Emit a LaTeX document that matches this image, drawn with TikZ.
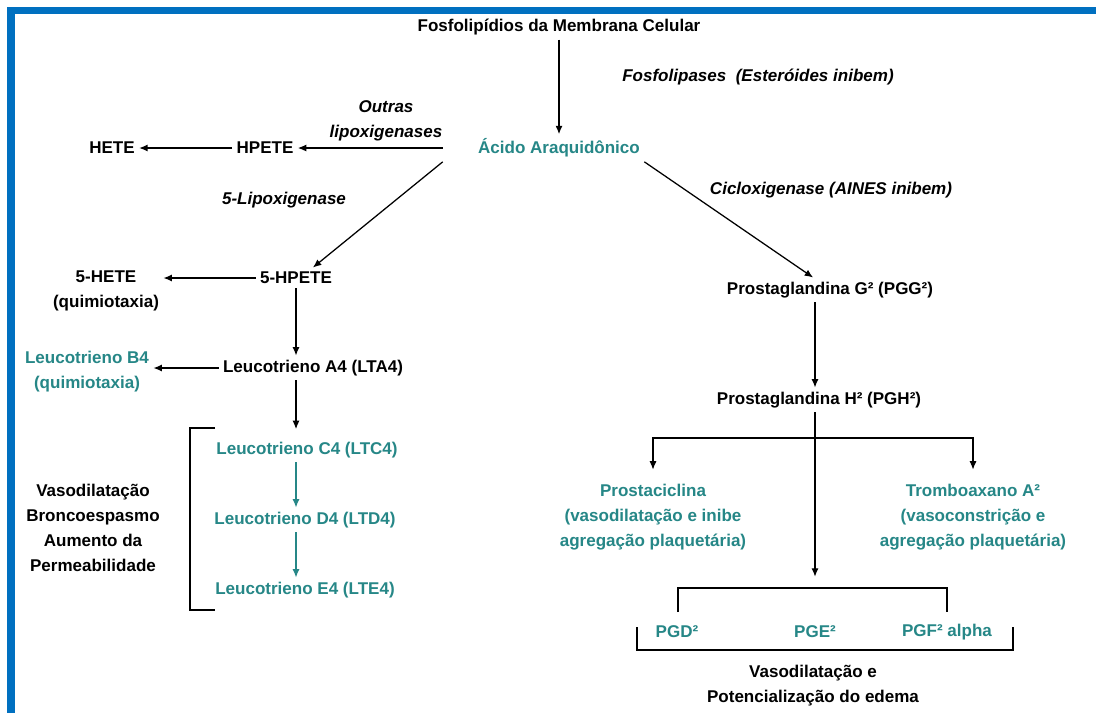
\documentclass[tikz,border=0pt]{standalone}
\usepackage{fontspec}
\setmainfont{Liberation Sans}
\usetikzlibrary{arrows.meta,positioning}
\definecolor{frameBlue}{RGB}{0,112,192}
\definecolor{prodTeal}{RGB}{38,135,135}

\begin{document}
\begin{tikzpicture}[x=0.025cm, y=-0.025cm,
  every node/.style={font=\fontsize{12.1}{17.8}\selectfont\bfseries, align=center, inner sep=3pt},
  prod/.style={text=prodTeal},
  enz/.style={font=\fontsize{12.1}{17.8}\selectfont\bfseries\itshape},
  arr/.style={-{Latex[length=6pt,width=5pt]}, line width=0.9pt},
  brk/.style={line width=0.9pt}]
  \useasboundingbox (0,0) rectangle (1096,713);
  \fill[white] (0,0) rectangle (1096,713);
  % blue frame (top and left only)
  \fill[frameBlue] (7,7) rectangle (1096,14);
  \fill[frameBlue] (7,7) rectangle (15,713);

  % membrane -> arachidonic acid
  \node (fosfo) at (559,27) {Fosfolipídios da Membrana Celular};
  \node[enz] (fosfolip) at (758,77) {Fosfolipases\ \ (Esteróides inibem)};
  \node[prod] (acido) at (559,148) {Ácido Araquidônico};
  \draw[arr] (fosfo) -- (acido);

  % lipoxygenase branch
  \node[enz] (outras) at (386,121) {Outras\\lipoxigenases};
  \node (hpete) at (265,148) {HPETE};
  \node (hete) at (112,148) {HETE};
  \node[enz] (lipox5) at (284,200) {5-Lipoxigenase};
  \draw[arr, shorten <=22pt] (acido) -- (hpete);
  \draw[arr] (hpete) -- (hete);

  \node (hpete5) at (296,278) {5-HPETE};
  \node (hete5) at (106,291) {5-HETE\\(quimiotaxia)};
  \node (lta4) at (313,368) {Leucotrieno A4 (LTA4)};
  \node[prod] (ltb4) at (87,372) {Leucotrieno B4\\(quimiotaxia)};
  \node[prod] (ltc4) at (307,450) {Leucotrieno C4 (LTC4)};
  \node[prod] (ltd4) at (305,520) {Leucotrieno D4 (LTD4)};
  \node[prod] (lte4) at (305,590) {Leucotrieno E4 (LTE4)};
  \node (efeitosLT) at (93,528) {Vasodilatação\\Broncoespasmo\\Aumento da\\Permeabilidade};

  \draw[arr] ([xshift=-22pt]acido.south west) -- ([xshift=12pt]hpete5.north);
  \draw[arr] (hpete5.west) -- (hpete5.west -| hete5.east);
  \draw[arr] (hpete5.south) -- (hpete5.south |- lta4.north);
  \draw[arr] (lta4.west) -- (lta4.west -| ltb4.east);
  \draw[arr] (lta4.south -| hpete5) -- ([yshift=6pt]ltc4.north -| hpete5);
  \draw[arr, prodTeal] (ltc4.south -| hpete5) -- (ltd4.north -| hpete5);
  \draw[arr, prodTeal] (ltd4.south -| hpete5) -- (lte4.north -| hpete5);
  \draw[brk] (215,428) -- (190,428) -- (190,610) -- (215,610);

  % cyclooxygenase branch
  \node[enz] (cox) at (831,190) {Cicloxigenase (AINES inibem)};
  \node (pgg) at (830,290) {Prostaglandina G² (PGG²)};
  \node (pgh) at (819,400) {Prostaglandina H² (PGH²)};
  \node[prod] (pgi) at (653,517) {Prostaciclina\\(vasodilatação e inibe\\agregação plaquetária)};
  \node[prod] (txa2) at (973,517) {Tromboaxano A²\\(vasoconstrição e\\agregação plaquetária)};
  \node[prod] (pgd) at (677,632) {PGD²};
  \node[prod] (pge) at (815,632) {PGE²};
  \node[prod] (pgf) at (947,632) {PGF² alpha};
  \node (efeitosPG) at (813,686) {Vasodilatação e\\Potencialização do edema};

  \draw[arr] (acido.south east) -- ([xshift=-12pt]pgg.north);
  \draw[arr] (pgg.south -| pge) -- (pgh.north -| pge);
  \coordinate (fork) at (815,438);
  \coordinate (pgtop) at (815,588);
  \draw[arr, shorten >=8pt] (pgh.south -| pge) -- (pgtop);
  \draw[arr, shorten >=7pt] (fork) -| (pgi.north);
  \draw[arr, shorten >=7pt] (fork) -| (txa2.north);
  \draw[brk] (678,612) -- (678,588) -- (947,588) -- (947,612);
  \draw[brk] (637,627) -- (637,650) -- (1013,650) -- (1013,627);
\end{tikzpicture}
\end{document}
